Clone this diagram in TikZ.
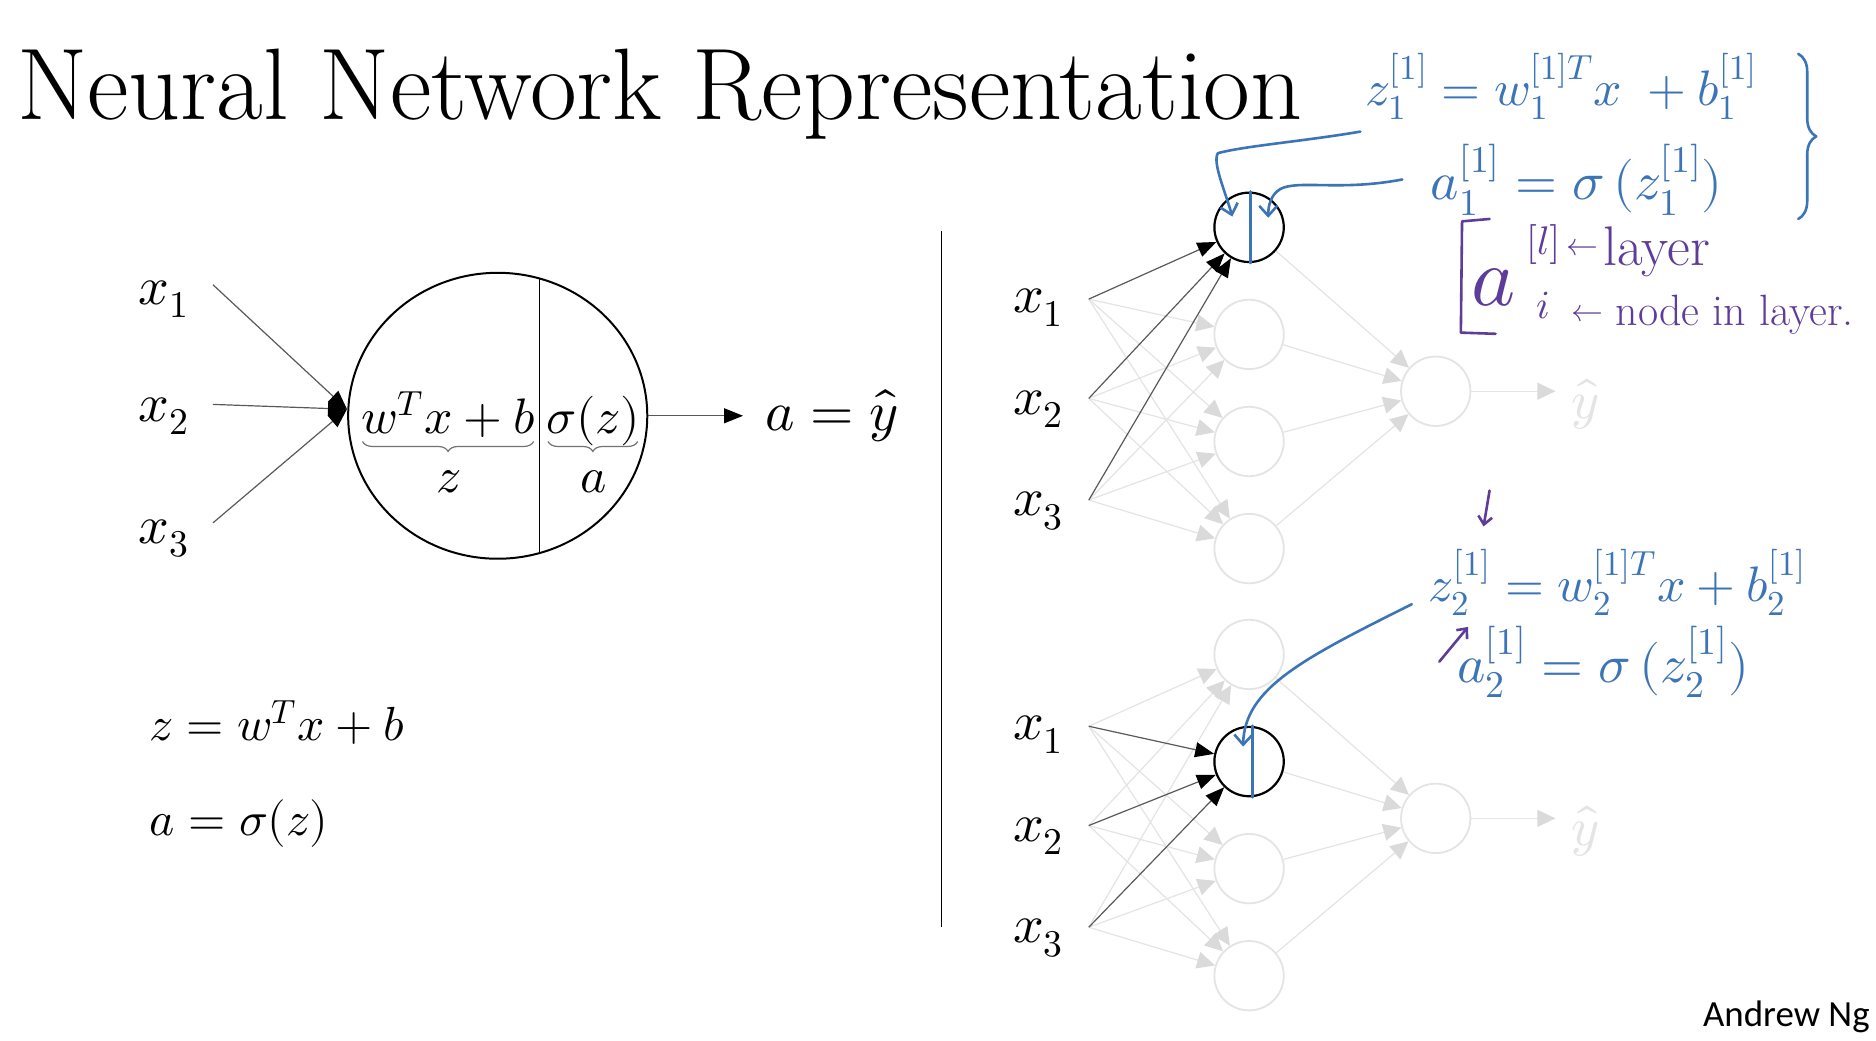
\documentclass[tikz,border=0pt]{standalone}
\usepackage{fontspec}
\usepackage{unicode-math}
\setmathfont{Latin Modern Math}
\newfontfamily\carlito{Carlito}
\usetikzlibrary{arrows.meta,decorations.pathreplacing,shapes.geometric}
\definecolor{handblue}{HTML}{3C74B8}
\definecolor{handpurple}{HTML}{5E3C99}
\definecolor{ghostgray}{HTML}{E4E4E4}
\definecolor{ghosttip}{HTML}{DADADA}
\newcommand{\myfs}[1]{\fontsize{#1}{#1}\selectfont}
\begin{document}
\begin{tikzpicture}[x=0.6pt,y=-0.6pt,
  lbl/.style={inner sep=0pt, font=\myfs{27}},
  inner/.style={inner sep=0pt, font=\myfs{25}},
  eqn/.style={inner sep=0pt, font=\myfs{24}, anchor=base west},
  neuron/.style={circle, draw=black, line width=1.1pt, minimum size=34.8pt, inner sep=0pt},
  ghostnode/.style={circle, draw=ghostgray, line width=0.9pt, minimum size=34.8pt, inner sep=0pt},
  ghostedge/.style={draw=ghostgray, line width=0.6pt, -{Triangle[length=9pt,width=8.5pt,color=ghosttip]}},
  darkedge/.style={draw=black!65, line width=0.6pt, -{Triangle[length=9.5pt,width=7.5pt,color=black]}},
  bracestyle/.style={draw=black!55, line width=0.6pt, decorate, decoration={brace, mirror, amplitude=5pt}},
  blueink/.style={draw=handblue, line width=1.3pt, line cap=round, line join=round},
  purpleink/.style={draw=handpurple, line width=1.3pt, line cap=round, line join=round},
  bluetext/.style={text=handblue, inner sep=0pt},
  purpletext/.style={text=handpurple, inner sep=0pt},
  handtip/.style={-{Straight Barb[length=5pt,width=9pt]}}
]
\fill[white] (0,0) rectangle (1568,869.6);
\useasboundingbox (0,0) rectangle (1568,869.6);

% title
\node[font=\myfs{51}, anchor=base west, inner sep=0pt] (title) at (14,100) {Neural Network Representation};

% ---------- left: single neuron ----------
\node[ellipse, draw=black, line width=1pt, minimum width=150pt, minimum height=143.4pt, inner sep=0pt] (N) at (416,347.5) {};
\draw[line width=0.9pt] (451,233.3) -- (451,461.7);
\node[lbl] (lx1) at (137,250) {$x_1$};
\node[lbl] (lx2) at (137,348) {$x_2$};
\node[lbl] (lx3) at (137,450) {$x_3$};
\coordinate (li1) at (178,238);
\coordinate (li2) at (178,338);
\coordinate (li3) at (178,437);
\coordinate (lt) at (290,342);
\foreach \k in {1,2,3}{\draw[darkedge] (li\k) -- (lt);}
\node[inner, anchor=base] (lin) at (375,362) {$w^Tx+b$};
\node[inner, anchor=base] (act) at (496,362) {$\sigma(z)$};
\draw[bracestyle] (303,369) -- (446,369);
\draw[bracestyle] (458,369) -- (533,369);
\node[inner] (zl) at (375,403) {$z$};
\node[inner] (al) at (496,403) {$a$};
\coordinate (lend) at (621,347.5);
\draw[darkedge] (N.east) -- (lend);
\node[inner sep=0pt, font=\myfs{28}, anchor=base] (ayhat) at (695,359.5) {$a=\hat{y}$};

\node[eqn] (eqz) at (125,619) {$z=w^Tx+b$};
\node[eqn] (eqa) at (125,698) {$a=\sigma(z)$};

% separator
\draw[line width=0.8pt] (787,193) -- (787,775);

% ---------- right: two copies of the network ----------
\foreach \nm/\dy/\hl in {u/0/1,l/357/2}{
  \foreach \k/\yl/\yi in {1/257/250,2/342/333,3/427/418}{
    \node[lbl] (\nm x\k) at (868,\yl+\dy) {$x_{\k}$};
    \coordinate (\nm i\k) at (910,\yi+\dy);
  }
  \foreach \j/\yh in {1/190,2/279.5,3/369,4/458.5}{
    \node[ghostnode] (\nm h\j) at (1044,\yh+\dy) {};
  }
  \node[ghostnode] (\nm o) at (1200,327+\dy) {};
  \foreach \j in {1,2,3,4}{
    \ifnum\j=\hl\relax\else
      \foreach \k in {1,2,3}{\draw[ghostedge] (\nm i\k) -- (\nm h\j);}
    \fi
    \draw[ghostedge] (\nm h\j) -- (\nm o);
  }
  \coordinate (\nm yend) at (1300,327+\dy);
  \draw[ghostedge] (\nm o) -- (\nm yend);
  \node[lbl, text=ghostgray] (\nm yhat) at (1325,338+\dy) {$\hat{y}$};
  \node[neuron] (\nm hh) at (\nm h\hl) {};
  \foreach \k in {1,2,3}{\draw[darkedge] (\nm i\k) -- (\nm hh);}
}

% ---------- handwritten annotations ----------
\node[bluetext, font=\myfs{25}] (z1) at (1305,72) {$z_1^{[1]}=w_1^{[1]T}x\;+b_1^{[1]}$};
\node[bluetext, font=\myfs{27}] (a1) at (1318,150) {$a_1^{[1]}=\sigma\,(z_1^{[1]})$};
\draw[blueink, decorate, decoration={brace, amplitude=9pt}] (1503,45) -- (1503,183);

\coordinate (c1s) at (1137,110);
\coordinate (c1e) at (1030,181);
\coordinate (c2s) at (1172,150);
\coordinate (c2e) at (1060,182);
\draw[blueink, handtip] (c1s) .. controls (1090,118) and (1040,122) .. (1018,128) .. controls (1013,135) and (1024,160) .. (c1e);
\draw[blueink, handtip] (c2s) .. controls (1120,160) and (1085,150) .. (1070,158) .. controls (1062,163) and (1060,172) .. (c2e);
\draw[blueink] ([xshift=0.6pt]uhh.north) -- ([xshift=0.6pt]uhh.south);

\draw[purpleink] (1245,183) -- (1222,185) -- (1221,278) -- (1250,279);
\node[purpletext, font=\myfs{42}] (abig) at (1248,240) {$a$};
\node[purpletext, font=\myfs{20}] (supl) at (1290,204) {$[l]$};
\node[purpletext, font=\myfs{20}] (subi) at (1290,255) {$i$};
\node[purpletext, font=\myfs{16}] (arrl) at (1323,207) {$\leftarrow$};
\node[purpletext, font=\myfs{28}, anchor=base west] (wlayer) at (1340,222) {layer};
\node[purpletext, font=\myfs{16}] (arrn) at (1327,262) {$\leftarrow$};
\node[purpletext, font=\myfs{22}, anchor=base west] (wnode) at (1350,272) {node in layer.};

\node[bluetext, font=\myfs{25}] (z2) at (1352,487) {$z_2^{[1]}=w_2^{[1]T}x+b_2^{[1]}$};
\node[bluetext, font=\myfs{27}] (a2) at (1340,553) {$a_2^{[1]}=\sigma\,(z_2^{[1]})$};
\coordinate (p1s) at (1245,410);
\coordinate (p1e) at (1240,440);
\coordinate (p2s) at (1203,553);
\coordinate (p2e) at (1227,524);
\draw[purpleink, -{Straight Barb[length=4pt,width=7pt]}] (p1s) -- (p1e);
\draw[purpleink, -{Straight Barb[length=4pt,width=7pt]}] (p2s) -- (p2e);
\coordinate (c3s) at (1180,505);
\coordinate (c3e) at (1039,624);
\draw[blueink, handtip] (c3s) .. controls (1090,550) and (1040,575) .. (c3e);
\draw[blueink] ([xshift=1.8pt]lhh.north) -- ([xshift=1.8pt]lhh.south);

\node[font=\carlito\myfs{18.5}, anchor=base east, inner sep=0pt] (author) at (1563,858) {Andrew Ng};
\end{tikzpicture}
\end{document}
